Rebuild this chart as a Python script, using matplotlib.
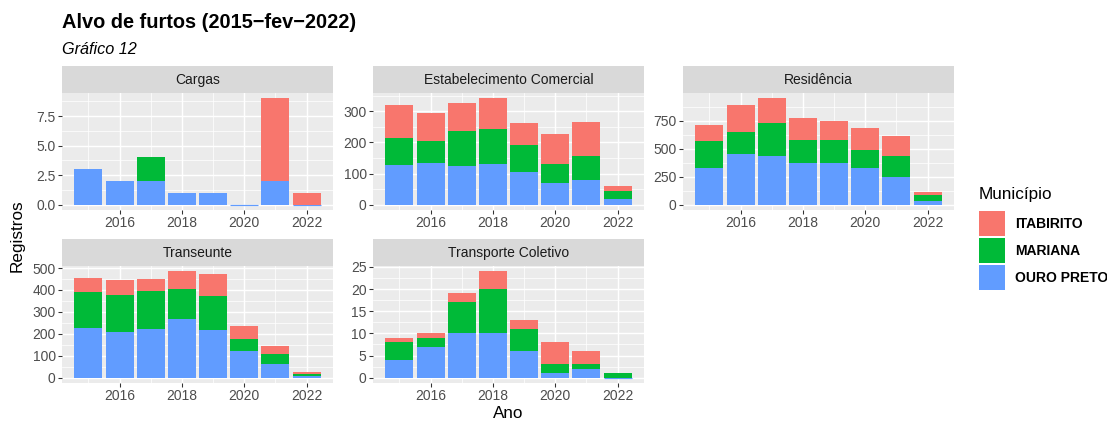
import numpy as np
import matplotlib
matplotlib.use("Agg")
import matplotlib.pyplot as plt
from matplotlib.patches import Rectangle
from matplotlib.ticker import MultipleLocator, FormatStrFormatter, FixedLocator

plt.rcParams['font.family'] = ['Liberation Sans', 'DejaVu Sans']

nan = np.nan
years = [2015, 2016, 2017, 2018, 2019, 2020, 2021, 2022]
municipios = ["ITABIRITO", "MARIANA", "OURO PRETO"]
mun_colors = ["#F8766D", "#00BA38", "#619CFF"]

cargas_itabirito = [nan, nan, nan, nan, nan, nan, 7, 1]
cargas_mariana = [nan, nan, 2, nan, nan, nan, nan, nan]
cargas_ouro_preto = [3, 2, 2, 1, 1, 0, 2, 0]

estab_itabirito = [106, 90, 90, 100, 71, 96, 110, 16]
estab_mariana = [87, 71, 113, 112, 87, 61, 77, 26]
estab_ouro_preto = [126, 133, 123, 130, 104, 69, 78, 17]

resid_itabirito = [143, 241, 223, 197, 170, 197, 178, 27]
resid_mariana = [241, 197, 294, 205, 205, 161, 188, 53]
resid_ouro_preto = [324, 449, 432, 369, 369, 324, 244, 30]

trans_itabirito = [64, 68, 54, 82, 100, 59, 36, 8]
trans_mariana = [162, 168, 173, 136, 154, 55, 46, 9]
trans_ouro_preto = [227, 208, 221, 267, 217, 121, 62, 9]

tc_itabirito = [1, 1, 2, 4, 2, 5, 3, nan]
tc_mariana = [4, 2, 7, 10, 5, 2, 1, 1]
tc_ouro_preto = [4, 7, 10, 10, 6, 1, 2, 0]

panel_titles = ["Cargas", "Estabelecimento Comercial", "Residência",
                "Transeunte", "Transporte Coletivo"]
panel_data = [
    (cargas_ouro_preto, cargas_mariana, cargas_itabirito),
    (estab_ouro_preto, estab_mariana, estab_itabirito),
    (resid_ouro_preto, resid_mariana, resid_itabirito),
    (trans_ouro_preto, trans_mariana, trans_itabirito),
    (tc_ouro_preto, tc_mariana, tc_itabirito),
]
y_steps = [2.5, 100, 250, 100, 5]
y_fmt = ["%.1f", "%d", "%d", "%d", "%d"]

SMALL = 10.4
AXT = 12.8

W, H = 1107, 422
DPI = 96
fig = plt.figure(figsize=(W / DPI, H / DPI), dpi=DPI)

def fx(x):
    return x / W

def fy(y):
    return 1 - y / H

col_x = [(62, 333), (373, 644), (683, 954)]
row_y = [(66, 93, 210), (239, 266, 383)]  # strip top, plot top, plot bottom

TICK_COLOR = "#4D4D4D"
for i, title in enumerate(panel_titles):
    r, c = divmod(i, 3)
    x0, x1 = col_x[c]
    st, pt, pb = row_y[r]
    ax = fig.add_axes([fx(x0), fy(pb), fx(x1 - x0), (pb - pt) / H])
    sax = fig.add_axes([fx(x0), fy(pt), fx(x1 - x0), (pt - st) / H])
    sax.set_facecolor("#D9D9D9")
    sax.set_xticks([]); sax.set_yticks([])
    for s in sax.spines.values():
        s.set_visible(False)
    sax.text(0.5, 0.47, title, ha="center", va="center", fontsize=SMALL,
             color="#1A1A1A", transform=sax.transAxes)

    ax.set_facecolor("#EBEBEB")
    for s in ax.spines.values():
        s.set_visible(False)
    ax.set_axisbelow(True)

    op, mar, ita = [np.array(a, dtype=float) for a in panel_data[i]]
    series = [(op, mun_colors[2]), (mar, mun_colors[1]), (ita, mun_colors[0])]
    bottom = np.zeros(len(years))
    for vals, col in series:
        lw = [0.9 if v == 0 else 0 for v in vals]
        cont = ax.bar(years, np.nan_to_num(vals), width=0.9, bottom=bottom,
                      color=col, edgecolor=col, linewidth=lw)
        for rect, v in zip(cont, vals):
            if np.isnan(v):
                rect.set_visible(False)
        bottom = bottom + np.nan_to_num(vals)

    ymax = bottom.max()
    ax.set_ylim(-0.05 * ymax, ymax * 1.05)
    ax.set_xlim(2014.155, 2022.845)
    step = y_steps[i]
    ax.yaxis.set_major_locator(MultipleLocator(step))
    ax.yaxis.set_minor_locator(MultipleLocator(step / 2))
    ax.yaxis.set_major_formatter(FormatStrFormatter(y_fmt[i]))
    ax.xaxis.set_major_locator(FixedLocator([2016, 2018, 2020, 2022]))
    ax.xaxis.set_minor_locator(FixedLocator([2015, 2017, 2019, 2021]))
    ax.grid(which="major", color="white", linewidth=1.07)
    ax.grid(which="minor", color="white", linewidth=0.53)
    ax.tick_params(which="major", length=2.75, width=0.8, color="#333333",
                   labelsize=SMALL, labelcolor=TICK_COLOR, pad=2.0)
    ax.tick_params(which="minor", length=0)

# Titles
fig.text(fx(62), fy(22), "Alvo de furtos (2015\u2212fev\u22122022)", fontsize=15,
         fontweight="bold", ha="left", va="center", color="black")
fig.text(fx(62), fy(49), "Gráfico 12", fontsize=12.2, fontstyle="italic",
         ha="left", va="center", color="black")
fig.text(fx(17), fy(236), "Registros", fontsize=AXT, rotation=90,
         ha="center", va="center")
fig.text(fx(508), fy(414), "Ano", fontsize=AXT, ha="center", va="center")

# Legend
fig.text(fx(979), fy(194), "Município", fontsize=AXT, ha="left", va="center")
key_top = 211
for k, (name, col) in enumerate(zip(municipios, mun_colors)):
    y0 = key_top + k * 27
    fig.patches.append(Rectangle((fx(979), fy(y0 + 25)), fx(26), 25 / H,
                                 transform=fig.transFigure, facecolor=col,
                                 edgecolor="none"))
    fig.text(fx(1015), fy(y0 + 12.5), name, fontsize=SMALL, fontweight="bold",
             ha="left", va="center", color="black")

fig.savefig("out.png", dpi=DPI)
